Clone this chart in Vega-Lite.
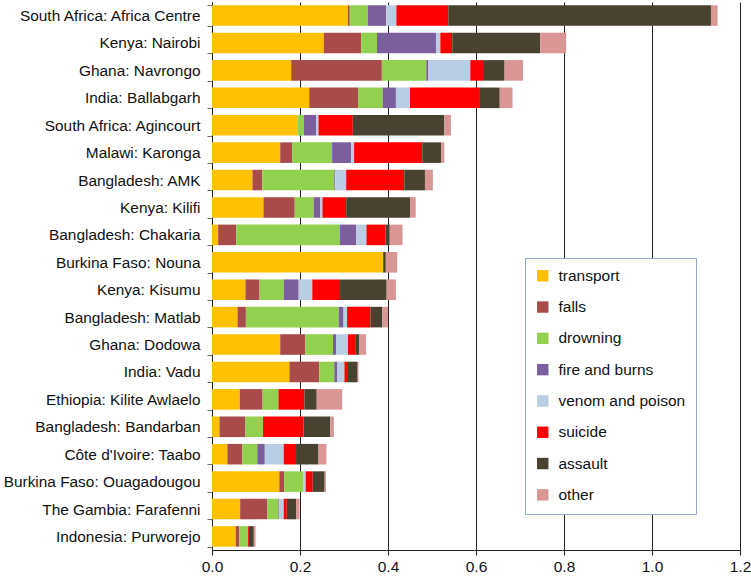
{
  "$schema": "https://vega.github.io/schema/vega-lite/v6.json",
  "width": 528,
  "height": 548,
  "autosize": "none",
  "padding": {"left": 212, "top": 2, "right": 11, "bottom": 27},
  "background": "white",
  "config": {
    "view": {"stroke": null},
    "font": "Liberation Sans"
  },
  "datasets": {
    "causes": [
      {"cause": "transport", "rank": 1},
      {"cause": "falls", "rank": 2},
      {"cause": "drowning", "rank": 3},
      {"cause": "fire and burns", "rank": 4},
      {"cause": "venom and poison", "rank": 5},
      {"cause": "suicide", "rank": 6},
      {"cause": "assault", "rank": 7},
      {"cause": "other", "rank": 8}
    ],
    "deaths": [
      {"site": "South Africa: Africa Centre", "cause": "transport", "rate": 0.309},
      {"site": "South Africa: Africa Centre", "cause": "falls", "rate": 0.004},
      {"site": "South Africa: Africa Centre", "cause": "drowning", "rate": 0.041},
      {"site": "South Africa: Africa Centre", "cause": "fire and burns", "rate": 0.042},
      {"site": "South Africa: Africa Centre", "cause": "venom and poison", "rate": 0.023},
      {"site": "South Africa: Africa Centre", "cause": "suicide", "rate": 0.118},
      {"site": "South Africa: Africa Centre", "cause": "assault", "rate": 0.597},
      {"site": "South Africa: Africa Centre", "cause": "other", "rate": 0.015},
      {"site": "Kenya: Nairobi", "cause": "transport", "rate": 0.254},
      {"site": "Kenya: Nairobi", "cause": "falls", "rate": 0.085},
      {"site": "Kenya: Nairobi", "cause": "drowning", "rate": 0.036},
      {"site": "Kenya: Nairobi", "cause": "fire and burns", "rate": 0.134},
      {"site": "Kenya: Nairobi", "cause": "venom and poison", "rate": 0.010},
      {"site": "Kenya: Nairobi", "cause": "suicide", "rate": 0.027},
      {"site": "Kenya: Nairobi", "cause": "assault", "rate": 0.200},
      {"site": "Kenya: Nairobi", "cause": "other", "rate": 0.059},
      {"site": "Ghana: Navrongo", "cause": "transport", "rate": 0.180},
      {"site": "Ghana: Navrongo", "cause": "falls", "rate": 0.206},
      {"site": "Ghana: Navrongo", "cause": "drowning", "rate": 0.101},
      {"site": "Ghana: Navrongo", "cause": "fire and burns", "rate": 0.005},
      {"site": "Ghana: Navrongo", "cause": "venom and poison", "rate": 0.095},
      {"site": "Ghana: Navrongo", "cause": "suicide", "rate": 0.029},
      {"site": "Ghana: Navrongo", "cause": "assault", "rate": 0.049},
      {"site": "Ghana: Navrongo", "cause": "other", "rate": 0.042},
      {"site": "India: Ballabgarh", "cause": "transport", "rate": 0.221},
      {"site": "India: Ballabgarh", "cause": "falls", "rate": 0.111},
      {"site": "India: Ballabgarh", "cause": "drowning", "rate": 0.056},
      {"site": "India: Ballabgarh", "cause": "fire and burns", "rate": 0.030},
      {"site": "India: Ballabgarh", "cause": "venom and poison", "rate": 0.032},
      {"site": "India: Ballabgarh", "cause": "suicide", "rate": 0.159},
      {"site": "India: Ballabgarh", "cause": "assault", "rate": 0.045},
      {"site": "India: Ballabgarh", "cause": "other", "rate": 0.029},
      {"site": "South Africa: Agincourt", "cause": "transport", "rate": 0.194},
      {"site": "South Africa: Agincourt", "cause": "drowning", "rate": 0.015},
      {"site": "South Africa: Agincourt", "cause": "fire and burns", "rate": 0.028},
      {"site": "South Africa: Agincourt", "cause": "venom and poison", "rate": 0.005},
      {"site": "South Africa: Agincourt", "cause": "suicide", "rate": 0.078},
      {"site": "South Africa: Agincourt", "cause": "assault", "rate": 0.208},
      {"site": "South Africa: Agincourt", "cause": "other", "rate": 0.015},
      {"site": "Malawi: Karonga", "cause": "transport", "rate": 0.155},
      {"site": "Malawi: Karonga", "cause": "falls", "rate": 0.027},
      {"site": "Malawi: Karonga", "cause": "drowning", "rate": 0.091},
      {"site": "Malawi: Karonga", "cause": "fire and burns", "rate": 0.043},
      {"site": "Malawi: Karonga", "cause": "venom and poison", "rate": 0.007},
      {"site": "Malawi: Karonga", "cause": "suicide", "rate": 0.155},
      {"site": "Malawi: Karonga", "cause": "assault", "rate": 0.043},
      {"site": "Malawi: Karonga", "cause": "other", "rate": 0.007},
      {"site": "Bangladesh: AMK", "cause": "transport", "rate": 0.092},
      {"site": "Bangladesh: AMK", "cause": "falls", "rate": 0.022},
      {"site": "Bangladesh: AMK", "cause": "drowning", "rate": 0.164},
      {"site": "Bangladesh: AMK", "cause": "fire and burns", "rate": 0.002},
      {"site": "Bangladesh: AMK", "cause": "venom and poison", "rate": 0.025},
      {"site": "Bangladesh: AMK", "cause": "suicide", "rate": 0.132},
      {"site": "Bangladesh: AMK", "cause": "assault", "rate": 0.047},
      {"site": "Bangladesh: AMK", "cause": "other", "rate": 0.018},
      {"site": "Kenya: Kilifi", "cause": "transport", "rate": 0.117},
      {"site": "Kenya: Kilifi", "cause": "falls", "rate": 0.071},
      {"site": "Kenya: Kilifi", "cause": "drowning", "rate": 0.043},
      {"site": "Kenya: Kilifi", "cause": "fire and burns", "rate": 0.015},
      {"site": "Kenya: Kilifi", "cause": "venom and poison", "rate": 0.005},
      {"site": "Kenya: Kilifi", "cause": "suicide", "rate": 0.054},
      {"site": "Kenya: Kilifi", "cause": "assault", "rate": 0.145},
      {"site": "Kenya: Kilifi", "cause": "other", "rate": 0.013},
      {"site": "Bangladesh: Chakaria", "cause": "transport", "rate": 0.014},
      {"site": "Bangladesh: Chakaria", "cause": "falls", "rate": 0.041},
      {"site": "Bangladesh: Chakaria", "cause": "drowning", "rate": 0.236},
      {"site": "Bangladesh: Chakaria", "cause": "fire and burns", "rate": 0.037},
      {"site": "Bangladesh: Chakaria", "cause": "venom and poison", "rate": 0.023},
      {"site": "Bangladesh: Chakaria", "cause": "suicide", "rate": 0.043},
      {"site": "Bangladesh: Chakaria", "cause": "assault", "rate": 0.010},
      {"site": "Bangladesh: Chakaria", "cause": "other", "rate": 0.029},
      {"site": "Burkina Faso: Nouna", "cause": "transport", "rate": 0.389},
      {"site": "Burkina Faso: Nouna", "cause": "assault", "rate": 0.006},
      {"site": "Burkina Faso: Nouna", "cause": "other", "rate": 0.026},
      {"site": "Kenya: Kisumu", "cause": "transport", "rate": 0.076},
      {"site": "Kenya: Kisumu", "cause": "falls", "rate": 0.032},
      {"site": "Kenya: Kisumu", "cause": "drowning", "rate": 0.055},
      {"site": "Kenya: Kisumu", "cause": "fire and burns", "rate": 0.034},
      {"site": "Kenya: Kisumu", "cause": "venom and poison", "rate": 0.031},
      {"site": "Kenya: Kisumu", "cause": "suicide", "rate": 0.063},
      {"site": "Kenya: Kisumu", "cause": "assault", "rate": 0.106},
      {"site": "Kenya: Kisumu", "cause": "other", "rate": 0.021},
      {"site": "Bangladesh: Matlab", "cause": "transport", "rate": 0.058},
      {"site": "Bangladesh: Matlab", "cause": "falls", "rate": 0.019},
      {"site": "Bangladesh: Matlab", "cause": "drowning", "rate": 0.211},
      {"site": "Bangladesh: Matlab", "cause": "fire and burns", "rate": 0.011},
      {"site": "Bangladesh: Matlab", "cause": "venom and poison", "rate": 0.008},
      {"site": "Bangladesh: Matlab", "cause": "suicide", "rate": 0.053},
      {"site": "Bangladesh: Matlab", "cause": "assault", "rate": 0.027},
      {"site": "Bangladesh: Matlab", "cause": "other", "rate": 0.013},
      {"site": "Ghana: Dodowa", "cause": "transport", "rate": 0.155},
      {"site": "Ghana: Dodowa", "cause": "falls", "rate": 0.057},
      {"site": "Ghana: Dodowa", "cause": "drowning", "rate": 0.063},
      {"site": "Ghana: Dodowa", "cause": "fire and burns", "rate": 0.007},
      {"site": "Ghana: Dodowa", "cause": "venom and poison", "rate": 0.027},
      {"site": "Ghana: Dodowa", "cause": "suicide", "rate": 0.018},
      {"site": "Ghana: Dodowa", "cause": "assault", "rate": 0.008},
      {"site": "Ghana: Dodowa", "cause": "other", "rate": 0.015},
      {"site": "India: Vadu", "cause": "transport", "rate": 0.176},
      {"site": "India: Vadu", "cause": "falls", "rate": 0.068},
      {"site": "India: Vadu", "cause": "drowning", "rate": 0.034},
      {"site": "India: Vadu", "cause": "fire and burns", "rate": 0.007},
      {"site": "India: Vadu", "cause": "venom and poison", "rate": 0.016},
      {"site": "India: Vadu", "cause": "suicide", "rate": 0.008},
      {"site": "India: Vadu", "cause": "assault", "rate": 0.022},
      {"site": "India: Vadu", "cause": "other", "rate": 0.002},
      {"site": "Ethiopia: Kilite Awlaelo", "cause": "transport", "rate": 0.063},
      {"site": "Ethiopia: Kilite Awlaelo", "cause": "falls", "rate": 0.052},
      {"site": "Ethiopia: Kilite Awlaelo", "cause": "drowning", "rate": 0.036},
      {"site": "Ethiopia: Kilite Awlaelo", "cause": "suicide", "rate": 0.059},
      {"site": "Ethiopia: Kilite Awlaelo", "cause": "assault", "rate": 0.028},
      {"site": "Ethiopia: Kilite Awlaelo", "cause": "other", "rate": 0.058},
      {"site": "Bangladesh: Bandarban", "cause": "transport", "rate": 0.017},
      {"site": "Bangladesh: Bandarban", "cause": "falls", "rate": 0.059},
      {"site": "Bangladesh: Bandarban", "cause": "drowning", "rate": 0.040},
      {"site": "Bangladesh: Bandarban", "cause": "suicide", "rate": 0.092},
      {"site": "Bangladesh: Bandarban", "cause": "assault", "rate": 0.061},
      {"site": "Bangladesh: Bandarban", "cause": "other", "rate": 0.008},
      {"site": "Côte d'Ivoire: Taabo", "cause": "transport", "rate": 0.035},
      {"site": "Côte d'Ivoire: Taabo", "cause": "falls", "rate": 0.034},
      {"site": "Côte d'Ivoire: Taabo", "cause": "drowning", "rate": 0.034},
      {"site": "Côte d'Ivoire: Taabo", "cause": "fire and burns", "rate": 0.017},
      {"site": "Côte d'Ivoire: Taabo", "cause": "venom and poison", "rate": 0.043},
      {"site": "Côte d'Ivoire: Taabo", "cause": "suicide", "rate": 0.028},
      {"site": "Côte d'Ivoire: Taabo", "cause": "assault", "rate": 0.051},
      {"site": "Côte d'Ivoire: Taabo", "cause": "other", "rate": 0.018},
      {"site": "Burkina Faso: Ouagadougou", "cause": "transport", "rate": 0.153},
      {"site": "Burkina Faso: Ouagadougou", "cause": "falls", "rate": 0.011},
      {"site": "Burkina Faso: Ouagadougou", "cause": "drowning", "rate": 0.044},
      {"site": "Burkina Faso: Ouagadougou", "cause": "venom and poison", "rate": 0.005},
      {"site": "Burkina Faso: Ouagadougou", "cause": "suicide", "rate": 0.016},
      {"site": "Burkina Faso: Ouagadougou", "cause": "assault", "rate": 0.027},
      {"site": "Burkina Faso: Ouagadougou", "cause": "other", "rate": 0.003},
      {"site": "The Gambia: Farafenni", "cause": "transport", "rate": 0.064},
      {"site": "The Gambia: Farafenni", "cause": "falls", "rate": 0.062},
      {"site": "The Gambia: Farafenni", "cause": "drowning", "rate": 0.025},
      {"site": "The Gambia: Farafenni", "cause": "fire and burns", "rate": 0.002},
      {"site": "The Gambia: Farafenni", "cause": "venom and poison", "rate": 0.010},
      {"site": "The Gambia: Farafenni", "cause": "suicide", "rate": 0.007},
      {"site": "The Gambia: Farafenni", "cause": "assault", "rate": 0.021},
      {"site": "The Gambia: Farafenni", "cause": "other", "rate": 0.008},
      {"site": "Indonesia: Purworejo", "cause": "transport", "rate": 0.054},
      {"site": "Indonesia: Purworejo", "cause": "falls", "rate": 0.008},
      {"site": "Indonesia: Purworejo", "cause": "drowning", "rate": 0.020},
      {"site": "Indonesia: Purworejo", "cause": "suicide", "rate": 0.002},
      {"site": "Indonesia: Purworejo", "cause": "assault", "rate": 0.011},
      {"site": "Indonesia: Purworejo", "cause": "other", "rate": 0.004}
    ]
  },
  "data": {"name": "deaths"},
  "transform": [
    {
      "lookup": "cause",
      "from": {"data": {"name": "causes"}, "key": "cause", "fields": ["rank"]}
    }
  ],
  "mark": {"type": "bar"},
  "encoding": {
    "y": {
      "field": "site",
      "type": "nominal",
      "sort": null,
      "title": null,
      "scale": {"paddingInner": 0.25, "paddingOuter": 0.12},
      "axis": {
        "tickBand": "extent",
        "tickSize": 5,
        "tickColor": "#6d6d6d",
        "domainColor": "#222222",
        "labelFontSize": 15.4,
        "labelColor": "#111111",
        "labelPadding": 7,
        "labelLimit": 220
      }
    },
    "x": {
      "field": "rate",
      "type": "quantitative",
      "stack": "zero",
      "title": null,
      "scale": {"domain": [0, 1.2], "nice": false},
      "axis": {
        "values": [0, 0.2, 0.4, 0.6, 0.8, 1.0, 1.2],
        "format": ".1f",
        "grid": true,
        "gridColor": "#222222",
        "gridOpacity": 1,
        "domainColor": "#222222",
        "tickColor": "#222222",
        "tickSize": 5,
        "labelFontSize": 15.5,
        "labelColor": "#111111",
        "labelPadding": 4,
        "labelFlush": false
      }
    },
    "order": {"field": "rank", "type": "quantitative", "sort": "ascending"},
    "color": {
      "field": "cause",
      "type": "nominal",
      "sort": ["transport", "falls", "drowning", "fire and burns", "venom and poison", "suicide", "assault", "other"],
      "scale": {
        "domain": ["transport", "falls", "drowning", "fire and burns", "venom and poison", "suicide", "assault", "other"],
        "range": ["#FFC000", "#A84B4A", "#92D050", "#7B5E9C", "#B9CDE5", "#FF0000", "#4A4230", "#D99694"]
      },
      "legend": {
        "title": null,
        "orient": "none",
        "legendX": 313,
        "legendY": 256,
        "symbolType": "square",
        "symbolSize": 130,
        "symbolStrokeWidth": 0,
        "labelFontSize": 15.5,
        "labelColor": "#111111",
        "labelOffset": 8,
        "rowPadding": 14.3,
        "padding": 10,
        "strokeColor": "#8EA9C8",
        "fillColor": "white"
      }
    }
  }
}
